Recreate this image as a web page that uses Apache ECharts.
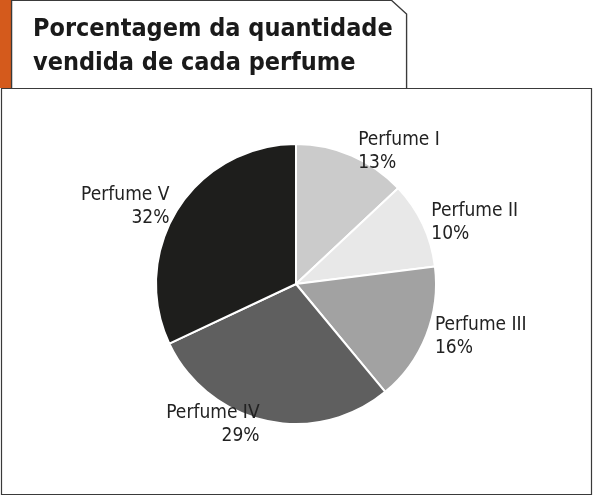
<!DOCTYPE html>
<html><head><meta charset="utf-8">
<script src="https://cdn.jsdelivr.net/npm/echarts@6/dist/echarts.min.js"></script>
<style>html,body{margin:0;padding:0;background:#fff}#chart{width:594px;height:497px}</style>
</head><body>
<div id="chart"></div>
<script>
var names = ['Perfume I', 'Perfume II', 'Perfume III', 'Perfume IV', 'Perfume V'];
var values = [13, 10, 16, 29, 32];
var colors = ['#cbcbcb', '#e8e8e8', '#a2a2a2', '#5f5f5f', '#1e1e1c'];
var font = "'Liberation Sans Narrow','DejaVu Sans Condensed',sans-serif";

var chart = echarts.init(document.getElementById('chart'));
chart.setOption({
  animation: false,
  graphic: [
    { type: 'rect', shape: { x: 1.5, y: 88.5, width: 590, height: 406 }, style: { fill: '#fff', stroke: '#3a3a3a', lineWidth: 1.2 } },
    { type: 'polygon', shape: { points: [[0, 0], [11, 0], [11, 38], [16, 44], [11, 50], [11, 88], [0, 88]] }, style: { fill: '#d45a1c' } },
    { type: 'polygon', shape: { points: [[11.5, 0.5], [345, 0.5], [358, 14], [358, 88.5], [11.5, 88.5]] }, style: { fill: '#fff', stroke: '#3a3a3a', lineWidth: 1.2 }, scaleX: 1.14, originX: 11 },
    { type: 'text', left: 33, top: 12, style: { text: 'Porcentagem da quantidade\nvendida de cada perfume', font: "bold 25px 'Liberation Sans Narrow','DejaVu Sans Condensed',sans-serif", fill: '#1a1a1a', lineHeight: 34 } }
  ],
  series: [{
    type: 'pie',
    center: [296, 284],
    radius: 140,
    startAngle: 90,
    clockwise: true,
    itemStyle: { borderColor: '#fff', borderWidth: 2 },
    label: {
      position: 'outside',
      formatter: '{b}\n{c}%',
      fontFamily: font,
      fontSize: 19,
      color: '#222',
      lineHeight: 23,
      align: 'center'
    },
    labelLine: { show: false, length: 4, length2: 0 },
    data: names.map(function (n, i) { return { name: n, value: values[i], itemStyle: { color: colors[i] } }; })
  }]
});
</script>
</body></html>
